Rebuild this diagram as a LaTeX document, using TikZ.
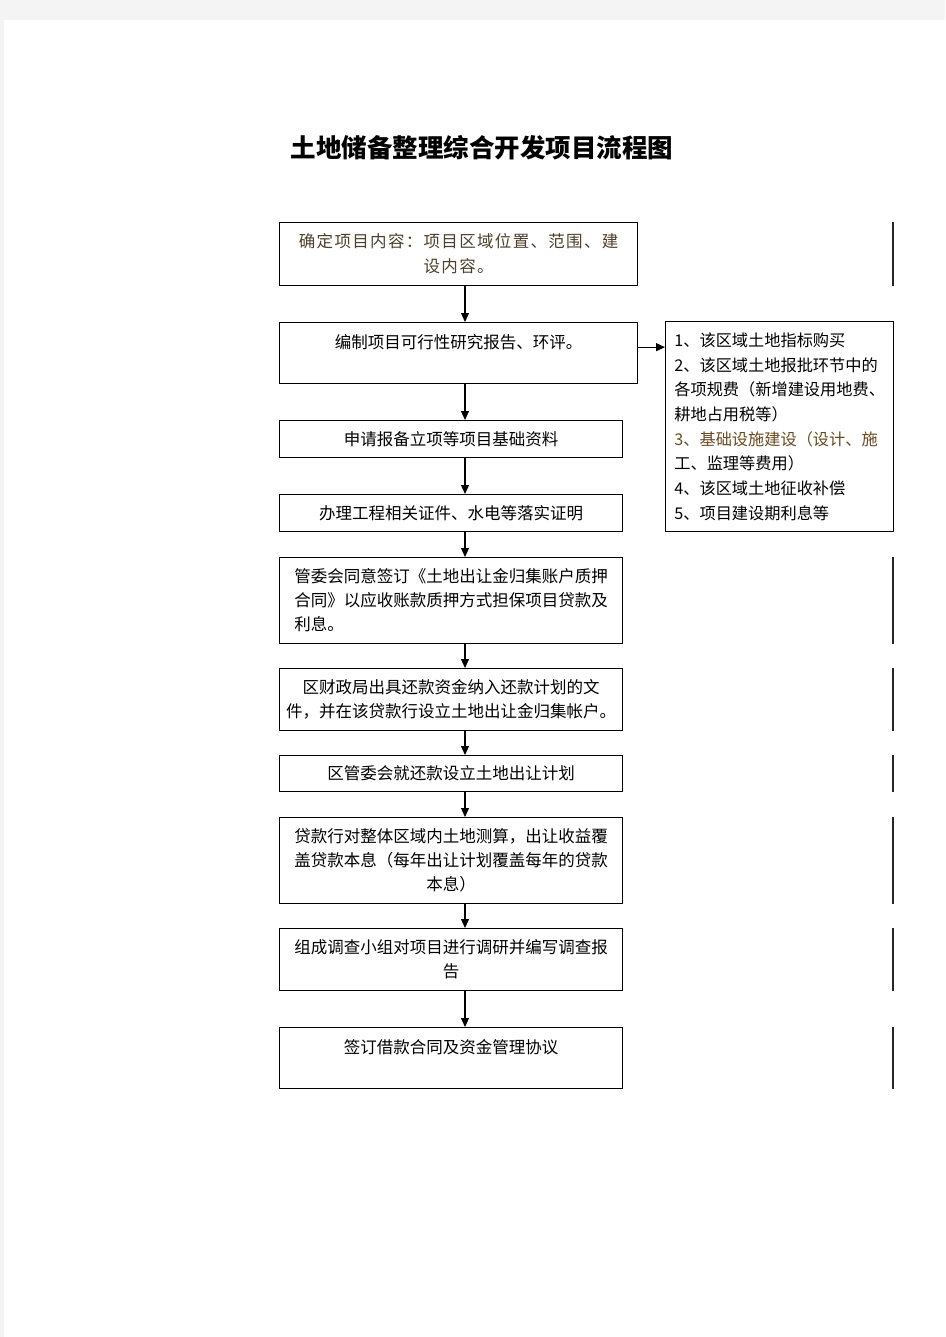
\documentclass[tikz,border=0pt]{standalone}
\usepackage{fontspec}
\setmainfont{Noto Sans CJK SC}
\newfontfamily\cjk{Noto Sans CJK SC}
\newfontfamily\cjkwide[LetterSpace=8]{Noto Sans CJK SC}
\usetikzlibrary{arrows.meta}
\definecolor{pagegray}{HTML}{F4F4F4}
\definecolor{browntext}{HTML}{4E3F2C}
\definecolor{orangetext}{HTML}{6A4A20}
\tikzset{
  stepbox/.style={draw=black, line width=1.3pt, rectangle, inner sep=0pt, align=center,
    font=\cjk\fontsize{16.5}{24}\selectfont, anchor=north west},
  sidebox/.style={draw=black, line width=1.3pt, rectangle, inner sep=0pt, align=left,
    font=\cjk\fontsize{16.2}{24.7}\selectfont, anchor=north west},
  arr/.style={line width=1.2pt, -{Triangle[length=9pt,width=8pt]}},
  rline/.style={line width=1.2pt, draw=black!85},
}
\begin{document}
\begin{tikzpicture}[x=1pt,y=-1pt]
\fill[pagegray] (0,0) rectangle (945,1337);
\fill[white] (4,20) rectangle (945,1337);
\useasboundingbox (0,0) rectangle (945,1337);

\node[font=\cjk\bfseries\fontsize{25.5}{30}\selectfont] (title) at (482,148) {土地储备整理综合开发项目流程图};

\node[stepbox, minimum width=358pt, minimum height=63pt, text=browntext, font=\cjkwide\fontsize{16.5}{25}\selectfont] (b1) at (279,222)
  {确定项目内容：项目区域位置、范围、建\\设内容。};
\node[stepbox, minimum width=358pt, minimum height=61pt] (b2) at (279,322)
  {编制项目可行性研究报告、环评。\\\mbox{}};
\node[stepbox, minimum width=343pt, minimum height=37pt] (b3) at (279,420)
  {申请报备立项等项目基础资料};
\node[stepbox, minimum width=343pt, minimum height=37pt] (b4) at (279,494)
  {办理工程相关证件、水电等落实证明};
\node[stepbox, minimum width=343pt, minimum height=86pt, align=left] (b5) at (279,557)
  {管委会同意签订《土地出让金归集账户质押\\合同》以应收账款质押方式担保项目贷款及\\利息。};
\node[stepbox, minimum width=343pt, minimum height=62pt] (b6) at (279,668)
  {区财政局出具还款资金纳入还款计划的文\\件，并在该贷款行设立土地出让金归集帐户。};
\node[stepbox, minimum width=343pt, minimum height=36pt] (b7) at (279,755)
  {区管委会就还款设立土地出让计划};
\node[stepbox, minimum width=343pt, minimum height=86pt] (b8) at (279,817)
  {贷款行对整体区域内土地测算，出让收益覆\\盖贷款本息（每年出让计划覆盖每年的贷款\\本息）};
\node[stepbox, minimum width=343pt, minimum height=62pt] (b9) at (279,928)
  {组成调查小组对项目进行调研并编写调查报\\告};
\node[stepbox, minimum width=343pt, minimum height=61pt] (b10) at (279,1027)
  {签订借款合同及资金管理协议\\\mbox{}};

\node[sidebox, minimum width=228pt, minimum height=210pt] (side) at (665,321)
  {1、该区域土地指标购买\\
   2、该区域土地报批环节中的\\
   各项规费（新增建设用地费、\\
   耕地占用税等）\\
   {\color{orangetext}3、基础设施建设（设计、施}\\
   工、监理等费用）\\
   4、该区域土地征收补偿\\
   5、项目建设期利息等};

\coordinate (ax) at (465,0);
\coordinate (rx) at (893,0);

\draw[arr] (b1.south -| ax) -- (b2.north -| ax);
\draw[arr] (b2.south -| ax) -- (b3.north -| ax);
\draw[arr] (b3.south -| ax) -- (b4.north -| ax);
\draw[arr] (b4.south -| ax) -- (b5.north -| ax);
\draw[arr] (b5.south -| ax) -- (b6.north -| ax);
\draw[arr] (b6.south -| ax) -- (b7.north -| ax);
\draw[arr] (b7.south -| ax) -- (b8.north -| ax);
\draw[arr] (b8.south -| ax) -- (b9.north -| ax);
\draw[arr] (b9.south -| ax) -- (b10.north -| ax);
\draw[arr] ([yshift=6pt]b2.east) -- ([yshift=6pt]b2.east -| side.west);

\foreach \b in {b1,b5,b6,b7,b8,b9,b10}{
  \draw[rline] (\b.north -| rx) -- (\b.south -| rx);
}
\end{tikzpicture}
\end{document}
